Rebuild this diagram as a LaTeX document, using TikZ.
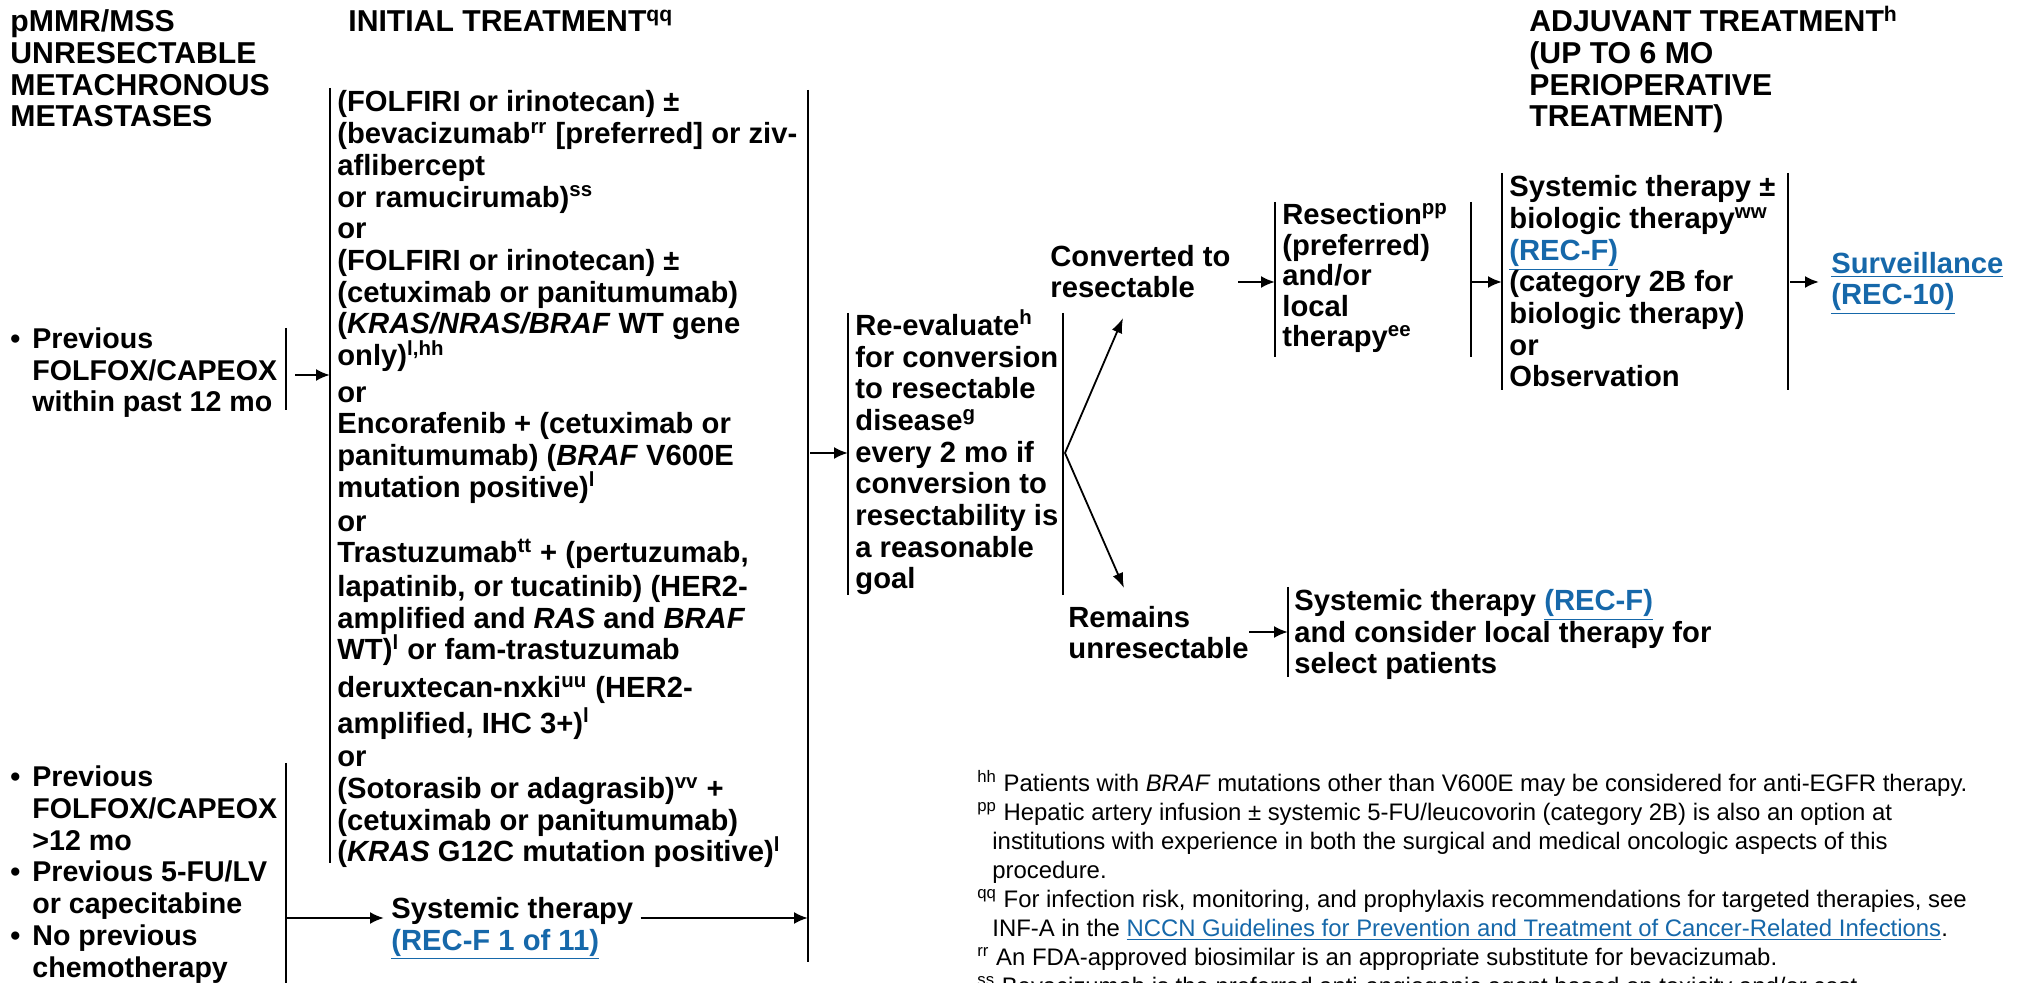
\documentclass[tikz,border=0pt]{standalone}
\usepackage{fontspec}
\setmainfont{Liberation Sans}
\usetikzlibrary{arrows.meta}
\definecolor{linkblue}{RGB}{22,104,170}
\newcommand{\lnk}[1]{\textcolor{linkblue}{\underline{#1}}}
\newcommand{\sps}[1]{\textsuperscript{#1}}
\newcommand{\bul}{\makebox[11pt][l]{\textbullet}}
\newcommand{\ind}{\hspace*{11pt}}
\newcommand{\fin}{\hspace*{7.5pt}}
\tikzset{
  body/.style={font=\bfseries\fontsize{14.6}{15.85}\selectfont, align=left, inner sep=0pt, anchor=base west},
  lbody/.style={body, font=\bfseries\fontsize{14.3}{15.85}\selectfont},
  head/.style={font=\bfseries\fontsize{15.1}{15.85}\selectfont, align=left, inner sep=0pt, anchor=base west},
  foot/.style={font=\fontsize{11.95}{14.5}\selectfont, align=left, inner sep=0pt, anchor=base west},
  bar/.style={line width=1pt},
  arr/.style={line width=1.1pt, -{Latex[length=7pt,width=6pt]}},
  fan/.style={line width=0.9pt, -{Latex[length=7.5pt,width=5.5pt]}},
}
\begin{document}
\begin{tikzpicture}[x=0.5pt,y=-0.5pt]
\useasboundingbox (0,0) rectangle (2020,983);
% note: anchor=base west of a multi-line node is the baseline of its last line

% headers
\node[head] (h1) at (10,127) {pMMR/MSS\\UNRESECTABLE\\METACHRONOUS\\METASTASES};
\node[head] (h2) at (348,32) {INITIAL TREATMENT\sps{qq}};
\node[head] (h3) at (1529,127) {ADJUVANT TREATMENT\sps{h}\\(UP TO 6 MO\\PERIOPERATIVE\\TREATMENT)};

% left groups
\node[lbody] (prev1) at (10,412) {\bul Previous\\\ind FOLFOX/CAPEOX\\\ind within past 12 mo};
\node[lbody] (prev2) at (10,977) {\bul Previous\\\ind FOLFOX/CAPEOX\\\ind >12 mo\\\bul Previous 5-FU/LV\\\ind or capecitabine\\\bul No previous\\\ind chemotherapy};

% initial treatment
\node[body] (init) at (337,862) {(FOLFIRI or irinotecan) ±\\
(bevacizumab\sps{rr} [preferred] or ziv-\\
aflibercept\\
or ramucirumab)\sps{ss}\\
or\\
(FOLFIRI or irinotecan) ±\\
(cetuximab or panitumumab)\\
(\textit{KRAS/NRAS/BRAF} WT gene\\
only)\sps{l,hh}\\[2.5pt]
or\\
Encorafenib + (cetuximab or\\
panitumumab) (\textit{BRAF} V600E\\
mutation positive)\sps{l}\\[1pt]
or\\
Trastuzumab\sps{tt} + (pertuzumab,\\[1pt]
lapatinib, or tucatinib) (HER2-\\
amplified and \textit{RAS} and \textit{BRAF}\\
WT)\sps{l} or fam-trastuzumab\\[3pt]
deruxtecan-nxki\sps{uu} (HER2-\\[2pt]
amplified, IHC 3+)\sps{l}\\[1pt]
or\\
(Sotorasib or adagrasib)\sps{vv} +\\
(cetuximab or panitumumab)\\
(\textit{KRAS} G12C mutation positive)\sps{l}};

\node[body] (sys1) at (391,950) {Systemic therapy\\\lnk{(REC-F 1 of 11)}};

% re-evaluate
\node[body] (reev) at (855,589) {Re-evaluate\sps{h}\\for conversion\\to resectable\\disease\sps{g}\\every 2 mo if\\conversion to\\resectability is\\a reasonable\\goal};

\node[body] (conv) at (1050,298) {Converted to\\resectable};
\node[body] (rem) at (1068,659) {Remains\\unresectable};

\node[body, font=\bfseries\fontsize{14.6}{15.25}\selectfont] (resec) at (1282,347) {Resection\sps{pp}\\(preferred)\\and/or\\local\\therapy\sps{ee}};
\node[body] (adj) at (1509,387) {Systemic therapy ±\\biologic therapy\sps{ww}\\\lnk{(REC-F)}\\(category 2B for\\biologic therapy)\\or\\Observation};
\node[body] (surv) at (1831,305) {\lnk{Surveillance}\\\lnk{(REC-10)}};
\node[body] (sys2) at (1294,674) {Systemic therapy \lnk{(REC-F)}\\and consider local therapy for\\select patients};

% footnotes
\node[foot] (fn) at (977,994) {\sps{hh} Patients with \textit{BRAF} mutations other than V600E may be considered for anti-EGFR therapy.\\
\sps{pp} Hepatic artery infusion ± systemic 5-FU/leucovorin (category 2B) is also an option at\\
\fin institutions with experience in both the surgical and medical oncologic aspects of this\\
\fin procedure.\\
\sps{qq} For infection risk, monitoring, and prophylaxis recommendations for targeted therapies, see\\
\fin INF-A in the \lnk{NCCN Guidelines for Prevention and Treatment of Cancer-Related Infections}.\\
\sps{rr} An FDA-approved biosimilar is an appropriate substitute for bevacizumab.\\
\sps{ss} Bevacizumab is the preferred anti-angiogenic agent based on toxicity and/or cost.};

% bracket bars
\coordinate (b1t) at (286,328); \coordinate (b1b) at (286,410);
\coordinate (b2t) at (286,763); \coordinate (b2b) at (286,990);
\coordinate (iLt) at (330,88);  \coordinate (iLb) at (330,863);
\coordinate (iRt) at (808,90);  \coordinate (iRb) at (808,962);
\coordinate (rLt) at (848,313); \coordinate (rLb) at (848,595);
\coordinate (rRt) at (1063,313); \coordinate (rRb) at (1063,595);
\coordinate (sLt) at (1275,202); \coordinate (sLb) at (1275,357);
\coordinate (sRt) at (1471,202); \coordinate (sRb) at (1471,357);
\coordinate (aLt) at (1502,173); \coordinate (aLb) at (1502,390);
\coordinate (aRt) at (1788,173); \coordinate (aRb) at (1788,390);
\coordinate (fLt) at (1288,587); \coordinate (fLb) at (1288,677);
\foreach \p in {b1,b2,iL,iR,rL,rR,sL,sR,aL,aR,fL}
  \draw[bar] (\p t) -- (\p b);

% connectors
\coordinate (c1) at (286,375);
\draw[arr] ([xshift=4.5pt]c1) -- (c1 -| iLt);
\coordinate (c2) at (286,918);
\draw[arr] (c2) -- ([xshift=-3.5pt]c2 -| sys1.west);
\draw[arr] ([xshift=3.5pt]c2 -| sys1.east) -- (c2 -| iRt);
\coordinate (c3) at (808,453);
\draw[arr] ([xshift=1pt]c3) -- (c3 -| rLt);
\coordinate (vx) at (1065,453);
\coordinate (tu) at (1123,318);
\coordinate (td) at (1124,588);
\draw[fan] (vx) -- (tu);
\draw[fan] (vx) -- (td);
\coordinate (c4) at (1238,282);
\draw[arr] (c4) -- (c4 -| sLt);
\draw[arr] (c4 -| sRt) -- (c4 -| aLt);
\draw[arr] ([xshift=1pt]c4 -| aRt) -- ([xshift=-6pt]c4 -| surv.west);
\coordinate (c5) at (1249,632);
\draw[arr] (c5) -- (c5 -| fLt);
\end{tikzpicture}
\end{document}
